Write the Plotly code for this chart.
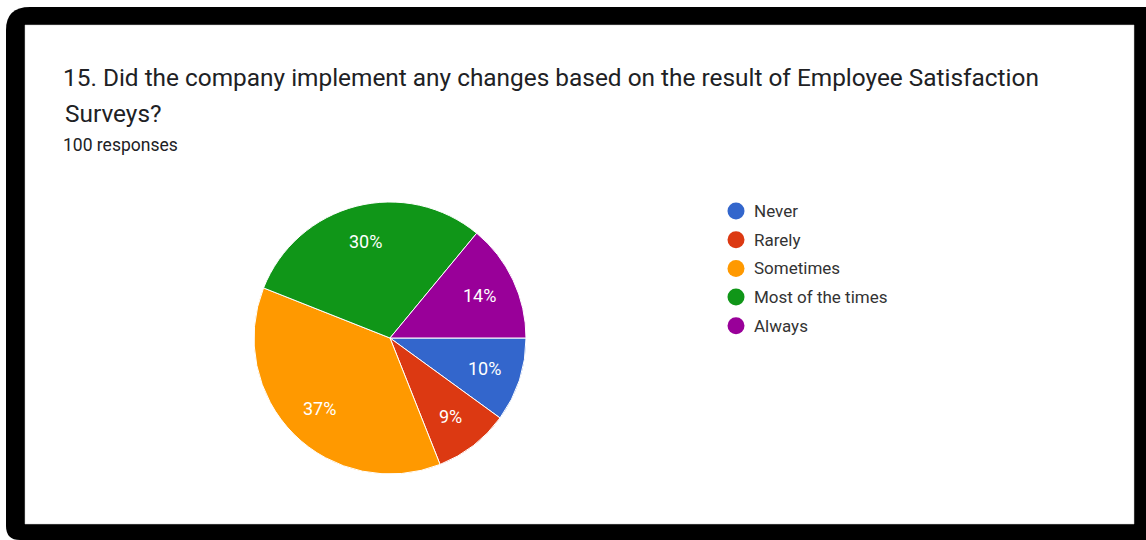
import math
import plotly.graph_objects as go

# Survey responses (percent of 100 responses)
labels = ["Never", "Rarely", "Sometimes", "Most of the times", "Always"]
values = [10, 9, 37, 30, 14]
colors = ["#3366cc", "#dc3912", "#ff9900", "#109618", "#990099"]

title_line1 = "15. Did the company implement any changes based on the result of Employee Satisfaction"
title_line2 = "Surveys?"
subtitle = "100 responses"

W, H = 1146, 540

# Pie placement in pixels
cx, cy, R = 390, 338, 136


def px(x):
    return x / W


def py(y):
    return 1 - y / H


fig = go.Figure()
fig.add_trace(go.Pie(
    labels=labels,
    values=values,
    marker=dict(colors=colors, line=dict(color="white", width=1)),
    sort=False,
    direction="clockwise",
    rotation=90,
    textinfo="none",
    showlegend=False,
    hoverinfo="label+percent",
    domain=dict(x=[px(cx - R), px(cx + R)], y=[py(cy + R), py(cy - R)]),
))

shapes = [
    # dark frame around the card
    dict(type="path", xref="paper", yref="paper",
         path=(f"M {px(6)},{py(30)} Q {px(6)},{py(7)} {px(30)},{py(7)} "
               f"L {px(1146)},{py(7)} L {px(1146)},{py(540)} L {px(20)},{py(540)} "
               f"Q {px(6)},{py(540)} {px(6)},{py(526)} Z"),
         fillcolor="black", line=dict(width=0), layer="below"),
    dict(type="rect", xref="paper", yref="paper",
         x0=px(25), x1=px(1134), y0=py(524), y1=py(25),
         fillcolor="white", line=dict(color="#cccccc", width=0.5), layer="below"),
]

annotations = [
    dict(text=title_line1, x=px(61), y=py(78), xref="paper", yref="paper",
         xanchor="left", yanchor="middle", showarrow=False,
         font=dict(family="Roboto", size=24.4, color="#202124")),
    dict(text=title_line2, x=px(63), y=py(113), xref="paper", yref="paper",
         xanchor="left", yanchor="middle", showarrow=False,
         font=dict(family="Roboto", size=24.4, color="#202124")),
    dict(text=subtitle, x=px(61), y=py(145), xref="paper", yref="paper",
         xanchor="left", yanchor="middle", showarrow=False,
         font=dict(family="Roboto", size=17.5, color="#202124")),
]

# Percent labels inside slices, placed along each slice's mid-angle
total = sum(values)
start = 0.0  # degrees clockwise from 3 o'clock
for v in values:
    mid = start + 360.0 * v / total / 2
    a = math.radians(mid)
    lx = cx + 0.73 * R * math.cos(a)
    ly = cy + 0.73 * R * math.sin(a)
    annotations.append(dict(text=f"{round(100 * v / total)}%", x=px(lx), y=py(ly),
                            xref="paper", yref="paper", xanchor="center", yanchor="middle",
                            showarrow=False,
                            font=dict(family="Roboto", size=18, color="white")))
    start += 360.0 * v / total

# Legend: colored dots with labels
leg_x, leg_y0, leg_dy, r = 736, 211, 28.7, 8.5
for i, (lab, col) in enumerate(zip(labels, colors)):
    yy = leg_y0 + i * leg_dy
    shapes.append(dict(type="circle", xref="paper", yref="paper",
                       x0=px(leg_x - r), x1=px(leg_x + r),
                       y0=py(yy + r), y1=py(yy - r),
                       fillcolor=col, line=dict(width=0)))
    annotations.append(dict(text=lab, x=px(752), y=py(yy), xref="paper", yref="paper",
                            xanchor="left", yanchor="middle", showarrow=False,
                            font=dict(family="Roboto", size=17, color="#333333")))

fig.update_layout(
    width=W, height=H,
    margin=dict(l=0, r=0, t=0, b=0),
    paper_bgcolor="white",
    plot_bgcolor="white",
    shapes=shapes,
    annotations=annotations,
)

fig.write_html("out.html")
